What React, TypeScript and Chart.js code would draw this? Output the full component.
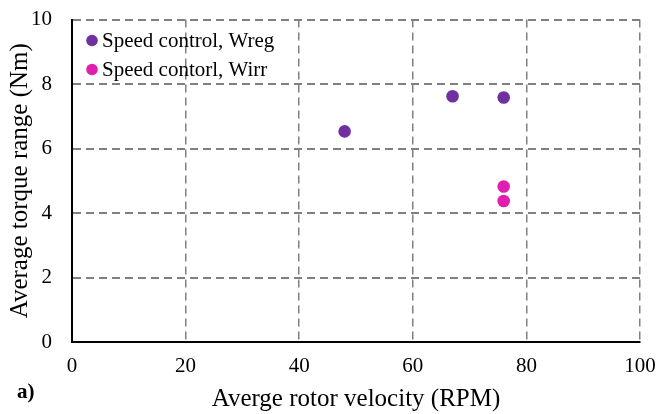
import React, { useEffect, useRef } from "react";
import { Chart, registerables } from "chart.js";

Chart.register(...registerables);

const seriesNames = ["Speed control, Wreg", "Speed contorl, Wirr"];
const seriesColors = ["#7030A0", "#E01FB0"];
const wregX = [48, 67, 76];
const wregY = [6.53, 7.62, 7.58];
const wirrX = [76, 76];
const wirrY = [4.82, 4.37];
const xTitle = "Averge rotor velocity (RPM)";
const yTitle = "Average torque range (Nm)";
const panelLabel = "a)";

const FONT = "'Liberation Serif', 'Times New Roman', serif";

const overlayPlugin = {
  id: "overlay",
  afterDraw(chart: any) {
    const ctx = chart.ctx;
    const area = chart.chartArea;
    ctx.save();
    // legend
    const ds = chart.data.datasets;
    ctx.font = `21px ${FONT}`;
    ctx.textBaseline = "middle";
    ctx.textAlign = "left";
    ds.forEach((d: any, i: number) => {
      const cy = area.top + 21 + i * 29;
      const cx = area.left + 20;
      ctx.fillStyle = d.backgroundColor;
      ctx.beginPath();
      ctx.arc(cx, cy, 5.8, 0, Math.PI * 2);
      ctx.fill();
      ctx.fillStyle = "#000";
      ctx.fillText(d.label, cx + 10, cy + 1);
    });
    // panel label
    ctx.font = `bold 21px ${FONT}`;
    ctx.fillStyle = "#000";
    ctx.fillText(panelLabel, 17, 393);
    ctx.restore();
  },
};

export default function App() {
  const ref = useRef<HTMLCanvasElement | null>(null);
  useEffect(() => {
    if (!ref.current) return;
    const chart = new Chart(ref.current, {
      type: "scatter",
      data: {
        datasets: [
          {
            label: seriesNames[0],
            data: wregX.map((x, i) => ({ x, y: wregY[i] })),
            backgroundColor: seriesColors[0],
            borderWidth: 0,
            pointRadius: 6.3,
            pointHoverRadius: 6.3,
          },
          {
            label: seriesNames[1],
            data: wirrX.map((x, i) => ({ x, y: wirrY[i] })),
            backgroundColor: seriesColors[1],
            borderWidth: 0,
            pointRadius: 6.3,
            pointHoverRadius: 6.3,
          },
        ],
      },
      options: {
        responsive: false,
        animation: false,
        events: [],
        layout: { padding: { left: 0, right: 17, top: 19.5, bottom: 0 } },
        plugins: { legend: { display: false }, tooltip: { enabled: false } },
        scales: {
          x: {
            type: "linear",
            min: 0,
            max: 100,
            afterFit: (s: any) => {
              s.height = 72;
              s.paddingLeft = 0;
              s.paddingRight = 0;
            },
            ticks: {
              stepSize: 20,
              padding: 11.5,
              color: "#000",
              font: { family: FONT, size: 21 },
              maxRotation: 0,
            },
            grid: { color: "#808080", lineWidth: 1.5, drawTicks: false },
            border: { display: true, color: "#000", width: 2, dash: [8, 5], z: 1 },
            title: {
              display: true,
              text: xTitle,
              color: "#000",
              font: { family: FONT, size: 25 },
              padding: { top: 0, bottom: 0 },
            },
          },
          y: {
            type: "linear",
            min: 0,
            max: 10,
            afterFit: (s: any) => {
              s.width = 72;
              s.paddingTop = 0;
              s.paddingBottom = 0;
            },
            ticks: {
              stepSize: 2,
              padding: 20,
              color: "#000",
              font: { family: FONT, size: 21 },
            },
            grid: { color: "#808080", lineWidth: 2, drawTicks: false },
            border: { display: true, color: "#000", width: 2, dash: [8, 5], z: 1 },
            title: {
              display: true,
              text: yTitle,
              color: "#000",
              font: { family: FONT, size: 25 },
              padding: { top: 5, bottom: 0 },
            },
          },
        },
      },
      plugins: [overlayPlugin],
    });
    return () => chart.destroy();
  }, []);
  return (
    <div style={{ position: "fixed", left: 0, top: 0, width: 657, height: 414, background: "#fff" }}>
      <canvas ref={ref} width={657} height={414} style={{ display: "block" }} />
    </div>
  );
}
